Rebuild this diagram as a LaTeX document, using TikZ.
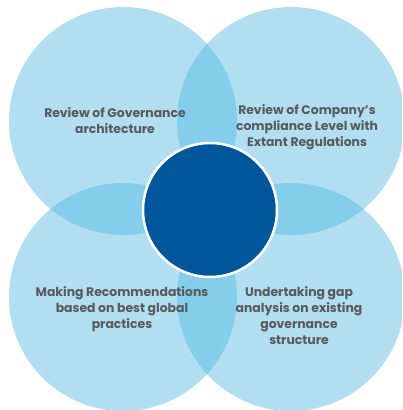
\documentclass[tikz,border=0pt]{standalone}
\usepackage{fontspec}
\setmainfont{Poppins}
\definecolor{lightc}{HTML}{B1DEF0}
\definecolor{overc}{HTML}{84CEEC}
\definecolor{darkc}{HTML}{02579B}
\definecolor{txtc}{HTML}{58595B}
\begin{document}
\begin{tikzpicture}[x=1pt,y=-1pt,
  lbl/.style={text=txtc,font=\bfseries\fontsize{12.4}{16}\selectfont,align=center,inner sep=0pt}]
\useasboundingbox (0,0) rectangle (402,410);
\clip (0,0) rectangle (402,410);
\def\R{114}
\coordinate (tl) at (123,121);
\coordinate (tr) at (291,121);
\coordinate (bl) at (123,297);
\coordinate (br) at (291,297);
\fill[lightc] (tl) circle (\R) (tr) circle (\R) (bl) circle (\R) (br) circle (\R);
\begin{scope}\clip (tl) circle (\R); \fill[overc] (tr) circle (\R) (bl) circle (\R); \end{scope}
\begin{scope}\clip (br) circle (\R); \fill[overc] (tr) circle (\R) (bl) circle (\R); \end{scope}
\node[circle,fill=darkc,draw=white,line width=2.5pt,minimum size=134pt,inner sep=0pt] (c) at (210,210) {};
\node[lbl] (t1) at (115,121) {Review of Governance\\architecture};
\node[lbl] (t2) at (307,127) {Review of Company's\\compliance Level with\\Extant Regulations};
\node[lbl] (t3) at (122,309) {Making Recommendations\\based on best global\\practices};
\node[lbl] (t4) at (299,316) {Undertaking gap\\analysis on existing\\governance\\structure};
\end{tikzpicture}
\end{document}
